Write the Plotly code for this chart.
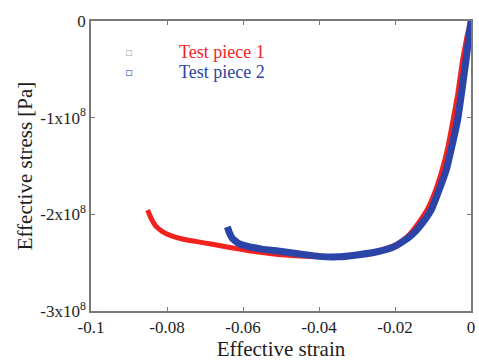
import plotly.graph_objects as go

# Test piece 1 (red)
strain1 = [-0.0851, -0.0842, -0.0830, -0.0812, -0.0790, -0.0760, -0.0725, -0.0680,
           -0.0638, -0.0580, -0.0508, -0.0450, -0.0400, -0.0350, -0.0300, -0.0250,
           -0.0220, -0.0200, -0.0177, -0.0160, -0.0140, -0.0115, -0.0095, -0.0076,
           -0.0060, -0.0047, -0.0035, -0.0022, -0.0010, 0.0]
stress1 = [-1.955e8, -2.04e8, -2.12e8, -2.18e8, -2.22e8, -2.255e8, -2.28e8, -2.31e8,
           -2.34e8, -2.38e8, -2.415e8, -2.43e8, -2.44e8, -2.44e8, -2.42e8, -2.385e8,
           -2.35e8, -2.32e8, -2.26e8, -2.20e8, -2.10e8, -1.95e8, -1.77e8, -1.54e8,
           -1.29e8, -1.02e8, -0.76e8, -0.40e8, -0.15e8, 0.0]

# Test piece 2 (blue)
strain2 = [-0.0641, -0.0636, -0.0628, -0.0612, -0.0590, -0.0550, -0.0508, -0.0450,
           -0.0400, -0.0350, -0.0300, -0.0250, -0.0220, -0.0195, -0.0175, -0.0161,
           -0.0145, -0.0130, -0.0115, -0.0104, -0.0085, -0.0065, -0.0050, -0.0035,
           -0.0024, -0.0013, -0.0005, 0.0]
stress2 = [-2.13e8, -2.19e8, -2.25e8, -2.30e8, -2.33e8, -2.36e8, -2.38e8, -2.41e8,
           -2.435e8, -2.44e8, -2.42e8, -2.39e8, -2.36e8, -2.32e8, -2.27e8, -2.23e8,
           -2.17e8, -2.10e8, -2.02e8, -1.95e8, -1.76e8, -1.54e8, -1.29e8, -1.02e8,
           -0.72e8, -0.40e8, -0.15e8, 0.0]

x_ticks = [-0.1, -0.08, -0.06, -0.04, -0.02, 0]
x_labels = ["-0.1", "-0.08", "-0.06", "-0.04", "-0.02", "0"]
y_ticks = [0, -1e8, -2e8, -3e8]
y_labels = ["0", "-1x10<sup>8</sup>", "-2x10<sup>8</sup>", "-3x10<sup>8</sup>"]

series_names = ["Test piece 1", "Test piece 2"]
RED = "#f2231f"
BLUE = "#2b44a8"
FONT = "Liberation Serif"
TXT = "#1e1e1e"

fig = go.Figure()
fig.add_trace(go.Scatter(x=strain1, y=stress1, mode="lines", name=series_names[0],
                         line=dict(color=RED, width=5, shape="spline", smoothing=0.3)))
fig.add_trace(go.Scatter(x=strain2, y=stress2, mode="lines", name=series_names[1],
                         line=dict(color=BLUE, width=7, shape="spline", smoothing=0.3)))

axis_common = dict(showgrid=False, zeroline=False, showline=True, linecolor="#7a7a7a",
                   linewidth=1.5, mirror="ticks", ticks="inside", ticklen=4,
                   tickcolor="#7a7a7a",
                   tickfont=dict(family=FONT, size=17, color=TXT))

fig.update_xaxes(range=[-0.1, 0], tickvals=x_ticks, ticktext=x_labels,
                 title=dict(text="Effective strain", font=dict(family=FONT, size=21, color=TXT),
                            standoff=2),
                 **axis_common)
fig.update_yaxes(range=[-3e8, 0], tickvals=y_ticks, ticktext=y_labels,
                 title=dict(text="Effective stress [Pa]", font=dict(family=FONT, size=21, color=TXT),
                            standoff=2),
                 **axis_common)

# legend drawn as annotations to keep coloured labels
fig.add_annotation(x=0.10, y=0.893, xref="paper", yref="paper", text="▫", showarrow=False,
                   xanchor="center", yanchor="middle",
                   font=dict(family="DejaVu Sans", size=12, color="#b8b8c0"))
fig.add_annotation(x=0.10, y=0.824, xref="paper", yref="paper", text="▫", showarrow=False,
                   xanchor="center", yanchor="middle",
                   font=dict(family="DejaVu Sans", size=12, color="#6070b8"))
fig.add_annotation(x=0.225, y=0.893, xref="paper", yref="paper", text=series_names[0],
                   showarrow=False, xanchor="left", yanchor="middle",
                   font=dict(family=FONT, size=18, color=RED))
fig.add_annotation(x=0.225, y=0.824, xref="paper", yref="paper", text=series_names[1],
                   showarrow=False, xanchor="left", yanchor="middle",
                   font=dict(family=FONT, size=18, color=BLUE))

fig.update_layout(width=479, height=363, margin=dict(l=91, r=4, t=21, b=52),
                  paper_bgcolor="white", plot_bgcolor="white", showlegend=False)

fig.write_html("out.html")
